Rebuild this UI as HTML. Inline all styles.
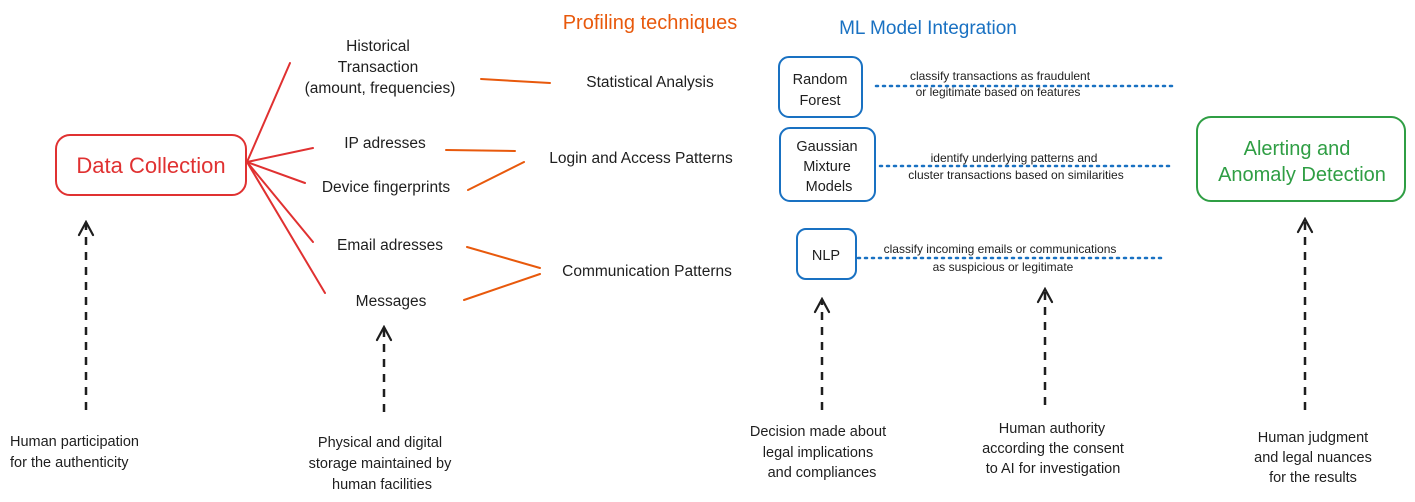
<!DOCTYPE html>
<html><head><meta charset="utf-8"><style>
html,body{margin:0;padding:0;background:#fff;}
svg{display:block;}
text{font-family:"Liberation Sans","DejaVu Sans",sans-serif;fill:#1e1e1e;}
</style></head><body>
<svg width="1415" height="502" viewBox="0 0 1415 502" xmlns="http://www.w3.org/2000/svg">
<defs>
<marker id="ah" markerWidth="18" markerHeight="18" refX="9" refY="2" orient="0" markerUnits="userSpaceOnUse">
<path d="M2 15 L9 2 L16 15" fill="none" stroke="#1e1e1e" stroke-width="2.2" stroke-linecap="round"/>
</marker>
</defs>
<text x="650" y="29" font-size="20" text-anchor="middle" style="fill:#e8590c">Profiling techniques</text>
<text x="928" y="34" font-size="19" text-anchor="middle" style="fill:#1971c2">ML Model Integration</text>

<rect x="56" y="135" width="190" height="60" rx="14" fill="none" stroke="#e03131" stroke-width="2"/>
<text x="151" y="173" font-size="22" text-anchor="middle" style="fill:#e03131">Data Collection</text>
<g stroke="#e03131" stroke-width="2" stroke-linecap="round">
<line x1="247" y1="162" x2="290" y2="63"/>
<line x1="247" y1="162" x2="313" y2="148"/>
<line x1="247" y1="162" x2="305" y2="183"/>
<line x1="247" y1="162" x2="313" y2="242"/>
<line x1="247" y1="162" x2="325" y2="293"/>
</g>
<g font-size="15.5" text-anchor="middle">
<text x="378" y="51">Historical</text>
<text x="378" y="72">Transaction</text>
<text x="380" y="93">(amount, frequencies)</text>
<text x="385" y="148">IP adresses</text>
<text x="386" y="192">Device fingerprints</text>
<text x="390" y="250">Email adresses</text>
<text x="391" y="306">Messages</text>
<text x="650" y="87">Statistical Analysis</text>
<text x="641" y="163">Login and Access Patterns</text>
<text x="647" y="276">Communication Patterns</text>
</g>
<g stroke="#e8590c" stroke-width="2" stroke-linecap="round">
<line x1="481" y1="79" x2="550" y2="83"/>
<line x1="446" y1="150" x2="515" y2="151"/>
<line x1="468" y1="190" x2="524" y2="162"/>
<line x1="467" y1="247" x2="540" y2="268"/>
<line x1="464" y1="300" x2="540" y2="274"/>
</g>

<g fill="none" stroke="#1971c2" stroke-width="2">
<rect x="779" y="57" width="83" height="60" rx="10"/>
<rect x="780" y="128" width="95" height="73" rx="10"/>
<rect x="797" y="229" width="59" height="50" rx="9"/>
</g>
<g font-size="14.5" text-anchor="middle">
<text x="820" y="84">Random</text>
<text x="820" y="105">Forest</text>
<text x="827" y="151">Gaussian</text>
<text x="827" y="171">Mixture</text>
<text x="829" y="191">Models</text>
<text x="826" y="260">NLP</text>
</g>
<g stroke="#1971c2" stroke-width="2.5" stroke-dasharray="2 5" stroke-linecap="round">
<line x1="876" y1="86" x2="1175" y2="86"/>
<line x1="880" y1="166" x2="1170" y2="166"/>
<line x1="858" y1="258" x2="1165" y2="258"/>
</g>
<g font-size="12" text-anchor="middle">
<text x="1000" y="80">classify transactions as fraudulent</text>
<text x="998" y="96">or legitimate based on features</text>
<text x="1014" y="162">identify underlying patterns and</text>
<text x="1016" y="179">cluster transactions based on similarities</text>
<text x="1000" y="253">classify incoming emails or communications</text>
<text x="1003" y="271">as suspicious or legitimate</text>
</g>

<rect x="1197" y="117" width="208" height="84" rx="14" fill="none" stroke="#2f9e44" stroke-width="2"/>
<text x="1297" y="155" font-size="20" text-anchor="middle" style="fill:#2f9e44">Alerting and</text>
<text x="1302" y="181" font-size="20" text-anchor="middle" style="fill:#2f9e44">Anomaly Detection</text>

<g stroke="#1e1e1e" stroke-width="2.5" stroke-dasharray="8 7" marker-end="url(#ah)">
<line x1="86" y1="410" x2="86" y2="222"/>
<line x1="384" y1="412" x2="384" y2="327"/>
<line x1="822" y1="410" x2="822" y2="299"/>
<line x1="1045" y1="405" x2="1045" y2="289"/>
<line x1="1305" y1="410" x2="1305" y2="219"/>
</g>
<g font-size="14.5">
<text x="10" y="446">Human participation</text>
<text x="10" y="467">for the authenticity</text>
</g>
<g font-size="14.5" text-anchor="middle">
<text x="380" y="447">Physical and digital</text>
<text x="380" y="468">storage maintained by</text>
<text x="382" y="489">human facilities</text>
<text x="818" y="436">Decision made about</text>
<text x="818" y="457">legal implications</text>
<text x="822" y="477">and compliances</text>
<text x="1052" y="433">Human authority</text>
<text x="1053" y="453">according the consent</text>
<text x="1053" y="473">to AI for investigation</text>
<text x="1313" y="442">Human judgment</text>
<text x="1313" y="462">and legal nuances</text>
<text x="1313" y="482">for the results</text>
</g>
</svg>
</body></html>
